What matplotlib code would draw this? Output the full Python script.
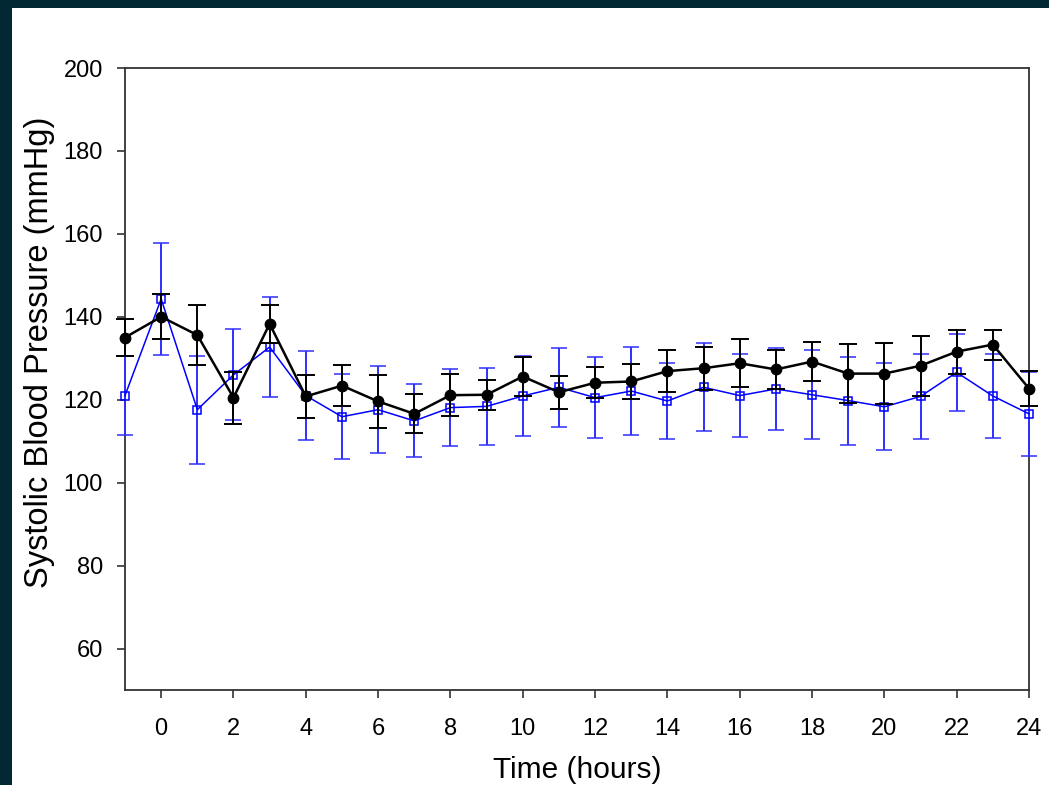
import matplotlib
matplotlib.use("Agg")
import matplotlib.pyplot as plt
from matplotlib.patches import Rectangle

plt.rcParams['font.family'] = ['Liberation Sans', 'DejaVu Sans']

hours = [-1, 0, 1, 2, 3, 4, 5, 6, 7, 8, 9, 10, 11, 12, 13, 14, 15, 16, 17, 18, 19, 20, 21, 22, 23, 24]
black_mean = [135.0, 140.0, 135.6, 120.5, 138.3, 120.8, 123.4, 119.6, 116.6, 121.1, 121.2, 125.6, 121.8,
              124.1, 124.4, 126.9, 127.6, 128.8, 127.3, 129.2, 126.3, 126.3, 128.2, 131.6, 133.3, 122.7]
black_err = [4.5, 5.4, 7.3, 6.3, 4.5, 5.2, 5.0, 6.4, 4.7, 5.0, 3.6, 4.8, 4.0,
             3.8, 4.2, 5.1, 5.2, 5.8, 4.8, 4.8, 7.1, 7.3, 7.2, 5.3, 3.6, 4.3]
blue_mean = [121.0, 144.3, 117.6, 126.0, 132.7, 121.0, 115.9, 117.6, 114.9, 118.1, 118.4, 120.9, 123.0,
             120.5, 122.1, 119.7, 123.0, 121.0, 122.6, 121.2, 119.8, 118.3, 120.8, 126.6, 120.9, 116.6]
blue_err = [9.5, 13.6, 13.0, 11.0, 12.0, 10.7, 10.2, 10.5, 8.8, 9.2, 9.2, 9.6, 9.5,
            9.7, 10.7, 9.1, 10.6, 10.0, 9.9, 10.7, 10.6, 10.5, 10.2, 9.2, 10.2, 10.2]
xticks = list(range(0, 25, 2))
yticks = list(range(60, 201, 20))

fig = plt.figure(figsize=(10.49, 7.85), dpi=100, facecolor='#022833')
fig.patches.append(Rectangle((12 / 1049, 0), 1, (785 - 8) / 785, transform=fig.transFigure,
                             facecolor='white', edgecolor='none', zorder=-10))
ax = fig.add_axes([125 / 1049, (785 - 690) / 785, (1029 - 125) / 1049, (690 - 68) / 785])
ax.set_zorder(5)
ax.set_facecolor('white')

ax.errorbar(hours, blue_mean, yerr=blue_err, color='#0000ff', ecolor='#2f2fff', elinewidth=1.4,
            capsize=5.5, capthick=1.4, lw=1.1, marker='s', markersize=6, markerfacecolor='none',
            markeredgecolor='#0000ff', markeredgewidth=1.1, zorder=3, clip_on=False)
ax.errorbar(hours, black_mean, yerr=black_err, color='black', ecolor='black', elinewidth=1.4,
            capsize=6.5, capthick=1.4, lw=1.8, marker='o', markersize=7.5, zorder=4, clip_on=False)

ax.set_xlim(-1, 24)
ax.set_ylim(50, 200)
ax.set_xticks(xticks)
ax.set_yticks(yticks)
ax.tick_params(axis='both', direction='out', length=6, width=1.2, color='#333333', labelsize=17)
ax.tick_params(axis='x', pad=14)
ax.tick_params(axis='y', pad=10)
for s in ax.spines.values():
    s.set_color('#333333')
    s.set_linewidth(1.3)

ax.set_xlabel('Time (hours)', fontsize=21.5, labelpad=12)
ax.set_ylabel('Systolic Blood Pressure (mmHg)', fontsize=23.5, labelpad=6)
ax.yaxis.label.set_y(0.543)

fig.savefig('out.png', dpi=100, facecolor=fig.get_facecolor())
